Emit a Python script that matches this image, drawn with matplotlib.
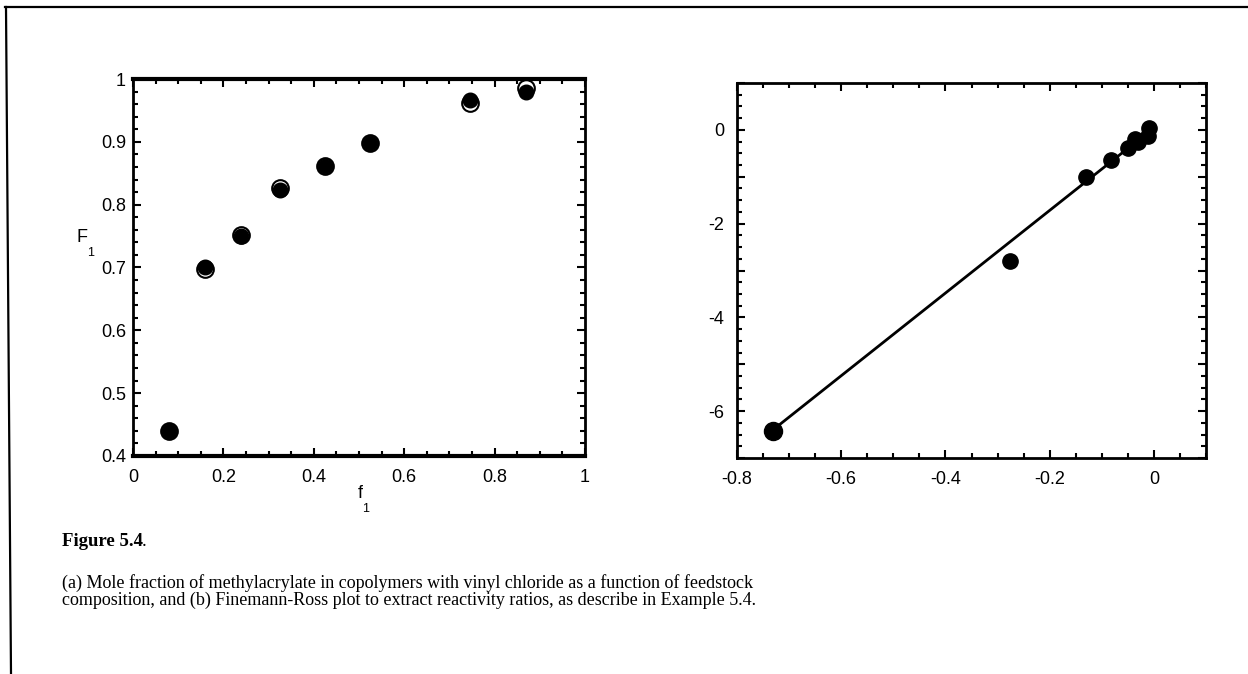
import matplotlib
matplotlib.use('Agg')
import matplotlib.pyplot as plt
from matplotlib.ticker import MultipleLocator, FuncFormatter
from matplotlib.lines import Line2D

#------------------------------------------------------------------------------

# (a) feed composition f1 vs copolymer composition F1
f1 = [0.08, 0.16, 0.24, 0.325, 0.425, 0.525, 0.745, 0.87]
F1_open = [0.440, 0.697, 0.751, 0.826, 0.862, 0.898, 0.962, 0.985]
F1_fill = [0.440, 0.701, 0.750, 0.823, 0.862, 0.898, 0.966, 0.979]

# (b) Fineman-Ross plot
fr_x = [-0.731, -0.277, -0.131, -0.083, -0.050, -0.036, -0.030, -0.011, -0.009]
fr_y = [-6.42, -2.80, -1.00, -0.64, -0.39, -0.19, -0.25, -0.14, 0.04]
fit_x = [-0.731, -0.012]
fit_y = [-6.40, -0.06]

caption = ("(a) Mole fraction of methylacrylate in copolymers with vinyl chloride "
           "as a function of feedstock\ncomposition, and (b) Finemann-Ross plot to "
           "extract reactivity ratios, as describe in Example 5.4.")

#------------------------------------------------------------------------------

W, H = 1248, 674
fig = plt.figure(figsize=(W / 100, H / 100), dpi=100)
plt.rcParams['font.family'] = ['Liberation Sans', 'DejaVu Sans']

# page frame (top and left rule)
fig.add_artist(Line2D([5 / W, 1], [1 - 7 / H, 1 - 7 / H], color='black', lw=1.6,
                      transform=fig.transFigure))
fig.add_artist(Line2D([6 / W, 11 / W], [1 - 7 / H, 0], color='black', lw=1.6,
                      transform=fig.transFigure))

def style_axes(ax, ypad):
    ax.tick_params(which='both', direction='in', top=True, right=True,
                   labelsize=13, width=1.5, colors='black')
    ax.tick_params(which='major', length=6)
    ax.tick_params(which='minor', length=3.5)
    ax.tick_params(axis='x', which='major', pad=9)
    ax.tick_params(axis='y', which='major', pad=ypad)

# left panel
ax1 = fig.add_axes([133 / W, 1 - 456 / H, 452 / W, 377 / H])
ax1.plot(f1, F1_open, 'o', ms=12, mfc='white', mec='black', mew=1.5)
ax1.plot(f1, F1_fill, 'o', ms=10.5, mfc='black', mec='black')
ax1.set_xlim(0, 1)
ax1.set_ylim(0.4, 1)
ax1.xaxis.set_major_locator(MultipleLocator(0.2))
ax1.xaxis.set_minor_locator(MultipleLocator(0.05))
ax1.yaxis.set_major_locator(MultipleLocator(0.1))
ax1.yaxis.set_minor_locator(MultipleLocator(0.02))
ax1.xaxis.set_major_formatter(FuncFormatter(lambda v, p: '%g' % round(v, 2)))
ax1.yaxis.set_major_formatter(FuncFormatter(lambda v, p: '%g' % round(v, 2)))
style_axes(ax1, 5)
for s in ['top', 'bottom']:
    ax1.spines[s].set_linewidth(3)
for s in ['left', 'right']:
    ax1.spines[s].set_linewidth(2)
fig.text(82 / W, 1 - 238 / H, 'F', fontsize=13, ha='center', va='center')
fig.text(91 / W, 1 - 253 / H, '1', fontsize=9, ha='center', va='center')
fig.text(360 / W, 1 - 493 / H, 'f', fontsize=13, ha='center', va='center')
fig.text(366 / W, 1 - 509 / H, '1', fontsize=9, ha='center', va='center')

# right panel
ax2 = fig.add_axes([737 / W, 1 - 458 / H, 469 / W, 375 / H])
ax2.plot(fit_x, fit_y, '-', color='black', lw=2)
ax2.plot(fr_x, fr_y, 'o', ms=11, mfc='black', mec='black')
ax2.plot(fr_x[0], fr_y[0], 'o', ms=13, mfc='black', mec='black')
ax2.set_xlim(-0.8, 0.1)
ax2.set_ylim(-7, 1)
ax2.xaxis.set_major_locator(MultipleLocator(0.2))
ax2.xaxis.set_minor_locator(MultipleLocator(0.05))
ax2.yaxis.set_major_locator(MultipleLocator(1))
ax2.yaxis.set_minor_locator(MultipleLocator(0.25))
ax2.xaxis.set_major_formatter(FuncFormatter(lambda v, p: '%g' % round(v, 2)))
ax2.yaxis.set_major_formatter(
    FuncFormatter(lambda v, p: '%d' % round(v) if round(v) % 2 == 0 else ''))
style_axes(ax2, 9)
for s in ax2.spines.values():
    s.set_linewidth(2)

# caption
fig.text(62 / W, 1 - 541 / H, 'Figure 5.4', fontsize=13.5, fontweight='bold',
         family='Liberation Serif', va='center')
fig.text(142 / W, 1 - 541 / H, '.', fontsize=13.5, family='Liberation Serif',
         va='center')
fig.text(62 / W, 1 - 574 / H, caption, fontsize=13, family='Liberation Serif',
         va='top', linespacing=0.98)

fig.savefig('out.png', dpi=100)
